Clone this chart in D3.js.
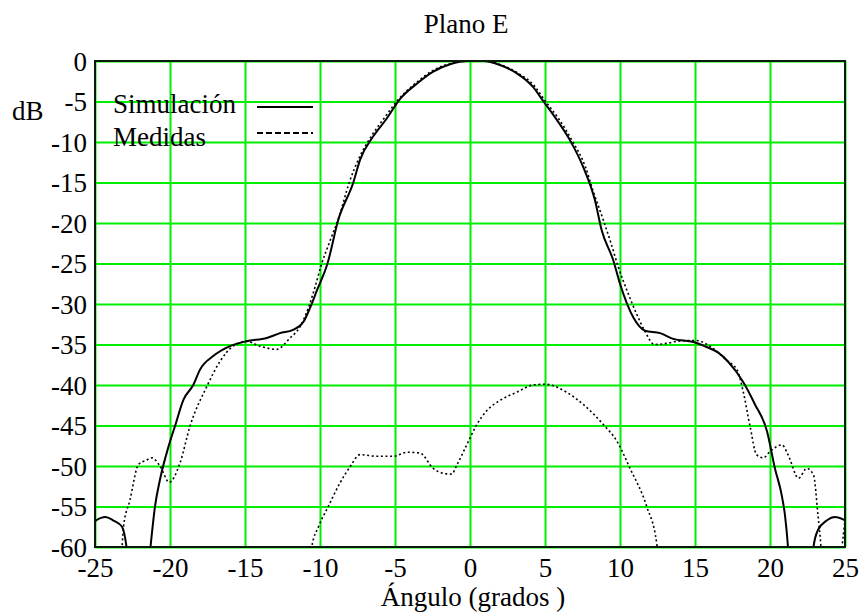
<!DOCTYPE html>
<html>
<head>
<meta charset="utf-8">
<script src="https://cdn.jsdelivr.net/npm/d3@7"></script>
<style>
  body { margin: 0; background: #fff; }
  svg { display: block; font-family: "Liberation Serif", "Times New Roman", serif; }
</style>
</head>
<body>
<svg id="chart" width="860" height="612"></svg>
<script>
// ---- Data ----
const title = "Plano E";
const xLabel = "Ángulo (grados )";
const yLabel = "dB";
const xTicks = [-25, -20, -15, -10, -5, 0, 5, 10, 15, 20, 25];
const yTicks = [0, -5, -10, -15, -20, -25, -30, -35, -40, -45, -50, -55, -60];
const seriesNames = ["Simulación", "Medidas"];

// Simulación (solid)
const simAngle = [-25, -24.6, -24.3, -23.8, -23.2, -22.9, -22.6, -21.6, -21.3, -21.0, -20.67, -20.1, -19.67, -19.1, -18.45, -18.0, -17.1, -16.0, -14.9, -13.55, -12.67, -11.8, -11.1, -10.67, -10.2, -9.5, -8.78, -7.78, -7.33, -6.45, -5.55, -4.67, -3.55, -2.45, -1.33, -0.15, 0.9, 2.0, 3.1, 4.2, 4.9, 5.8, 6.67, 7.55, 8.33, 8.78, 9.55, 10.0, 10.9, 11.67, 12.67, 13.55, 14.9, 15.9, 16.55, 17.2, 18.2, 19.0, 19.8, 20.33, 20.78, 21.0, 21.2, 21.4, 22.7, 22.9, 23.2, 23.8, 24.33, 25];
const simDb    = [-56.8, -56.4, -56.3, -56.7, -57.5, -60, -66, -66, -60, -55, -51.7, -47.6, -45.1, -41.8, -40, -38.1, -36.4, -35.2, -34.6, -34.2, -33.6, -33.2, -32.2, -30.5, -28.3, -25, -19.6, -15, -12.2, -9.3, -7.1, -4.7, -2.8, -1.3, -0.4, 0, 0, -0.5, -1.5, -3.2, -5, -7.3, -9.8, -13.1, -17.2, -20.9, -24.6, -27.5, -31.7, -33.3, -33.6, -34.3, -34.7, -35.4, -36.0, -37.1, -39.6, -42.4, -45.7, -50.3, -53.6, -56.1, -60, -66, -66, -60, -57.9, -56.7, -56.3, -56.7];

// Medidas (dotted)
const medAngle = [-23.35, -23.2, -23.1, -22.67, -22.1, -21.6, -21.2, -20.67, -20.05, -19.33, -18.67, -17.55, -16.67, -15.8, -14.9, -14.0, -12.9, -12.0, -11.33, -10.78, -10.33, -9.9, -9.33, -8.67, -8.07, -7.4, -6.55, -5.7, -4.8, -3.6, -2.5, -1.3, 0, 1.2, 2.1, 3.2, 4.3, 5.0, 5.9, 6.8, 7.7, 8.2, 8.9, 9.4, 9.9, 10.5, 11.1, 11.7, 12.3, 13.3, 13.8, 15.1, 15.9, 17.2, 17.8, 18.2, 18.67, 19.1, 19.55, 20.0, 20.8, 21.2, 21.9, 22.45, 22.9, 23.2, 23.4, 23.55, 24.6, 24.8, 25];
const medDb    = [-62, -60, -57.5, -54.2, -49.8, -49.3, -49.0, -50, -52, -49.6, -45.1, -40.2, -37.1, -35.2, -34.6, -35.2, -35.6, -34.2, -32.8, -30.5, -27.9, -25.1, -22.2, -18.9, -15.1, -12.0, -9.2, -7.0, -4.8, -2.7, -1.2, -0.3, 0, 0, -0.5, -1.5, -3.1, -4.9, -7.1, -9.8, -13.1, -16, -19.7, -22.5, -25.5, -28.5, -31.2, -33.5, -35, -34.8, -34.6, -34.5, -35.1, -37.1, -38.1, -40.7, -45.1, -48.6, -49.0, -48.2, -47.4, -48.6, -51.5, -50.3, -51.1, -56.1, -60, -64, -64, -60, -56.8];

// Lower dotted trace (unlabelled)
const lowAngle = [-10.7, -10.55, -10.1, -9.45, -8.67, -8.0, -7.33, -6.22, -5.1, -4.2, -3.33, -2.45, -1.78, -1.22, -0.88, -0.22, 0.45, 1.1, 2.0, 3.1, 4.2, 5.0, 6.45, 7.55, 8.9, 9.78, 10.67, 11.78, 12.45, 12.6];
const lowDb    = [-62, -60, -57.5, -55, -52.1, -50.1, -48.6, -48.8, -48.8, -48.3, -48.4, -50.3, -50.9, -51.0, -49.9, -47.4, -44.9, -43.2, -41.9, -40.9, -40.0, -39.9, -40.9, -42.4, -44.9, -46.9, -50.3, -55, -59.6, -62];

// ---- Layout ----
const svg = d3.select("#chart");
const pLeft = 95, pRight = 845, pTop = 61, pBottom = 547;
const FS = 27;

const x = d3.scaleLinear().domain([-25, 25]).range([pLeft, pRight]);
const y = d3.scaleLinear().domain([-60, 0]).range([pBottom, pTop]);

// grid
const gx = svg.append("g").attr("transform", `translate(0,${pBottom})`)
  .call(d3.axisBottom(x).tickValues(xTicks).tickSize(-(pBottom - pTop)).tickFormat(""));
const gy = svg.append("g").attr("transform", `translate(${pLeft},0)`)
  .call(d3.axisLeft(y).tickValues(yTicks).tickSize(-(pRight - pLeft)).tickFormat(""));
[gx, gy].forEach(g => {
  g.select(".domain").remove();
  g.selectAll("line").attr("stroke", "#00ee00").attr("stroke-width", 2);
});

// clip
svg.append("clipPath").attr("id", "clip").append("rect")
  .attr("x", pLeft).attr("y", pTop).attr("width", pRight - pLeft).attr("height", pBottom - pTop);

const line = d3.line().x(d => x(d[0])).y(d => y(d[1])).curve(d3.curveMonotoneX);
const plot = svg.append("g").attr("clip-path", "url(#clip)");

plot.append("path").datum(d3.zip(lowAngle, lowDb)).attr("d", line)
  .attr("fill", "none").attr("stroke", "#000").attr("stroke-width", 1.6).attr("stroke-dasharray", "2,2.6");
plot.append("path").datum(d3.zip(medAngle, medDb)).attr("d", line)
  .attr("fill", "none").attr("stroke", "#000").attr("stroke-width", 1.6).attr("stroke-dasharray", "2,2.6");
plot.append("path").datum(d3.zip(simAngle, simDb)).attr("d", line)
  .attr("fill", "none").attr("stroke", "#000").attr("stroke-width", 2);

// frame
svg.append("rect").attr("x", pLeft).attr("y", pTop).attr("width", pRight - pLeft).attr("height", pBottom - pTop)
  .attr("fill", "none").attr("stroke", "#0a1a0a").attr("stroke-width", 2);

// tick labels (plain hyphen minus, as in the reference)
const fmt = d => String(d);
const lx = svg.append("g").attr("transform", `translate(0,${pBottom})`)
  .call(d3.axisBottom(x).tickValues(xTicks).tickSize(0).tickPadding(11).tickFormat(fmt));
const ly = svg.append("g").attr("transform", `translate(${pLeft},0)`)
  .call(d3.axisLeft(y).tickValues(yTicks).tickSize(0).tickPadding(8).tickFormat(fmt));
[lx, ly].forEach(g => {
  g.select(".domain").remove();
  g.selectAll("text").attr("font-family", "Liberation Serif, serif").attr("font-size", FS).attr("fill", "#000");
});
ly.selectAll("text").attr("dy", "0.34em");

// titles
svg.append("text").attr("x", 466).attr("y", 33).attr("text-anchor", "middle")
  .attr("font-size", FS).text(title);
svg.append("text").attr("x", 473).attr("y", 606).attr("text-anchor", "middle")
  .attr("font-size", FS).text(xLabel);
svg.append("text").attr("x", 12).attr("y", 120)
  .attr("font-size", FS).text(yLabel);

// legend
const legY = [113, 146];
const legLineY = [107, 133];
seriesNames.forEach((name, i) => {
  svg.append("text").attr("x", 113).attr("y", legY[i]).attr("font-size", FS).text(name);
  svg.append("line").attr("x1", 257).attr("x2", 313).attr("y1", legLineY[i]).attr("y2", legLineY[i])
    .attr("stroke", "#000").attr("stroke-width", 2)
    .attr("stroke-dasharray", i === 0 ? null : "6,3");
});
</script>
</body>
</html>
